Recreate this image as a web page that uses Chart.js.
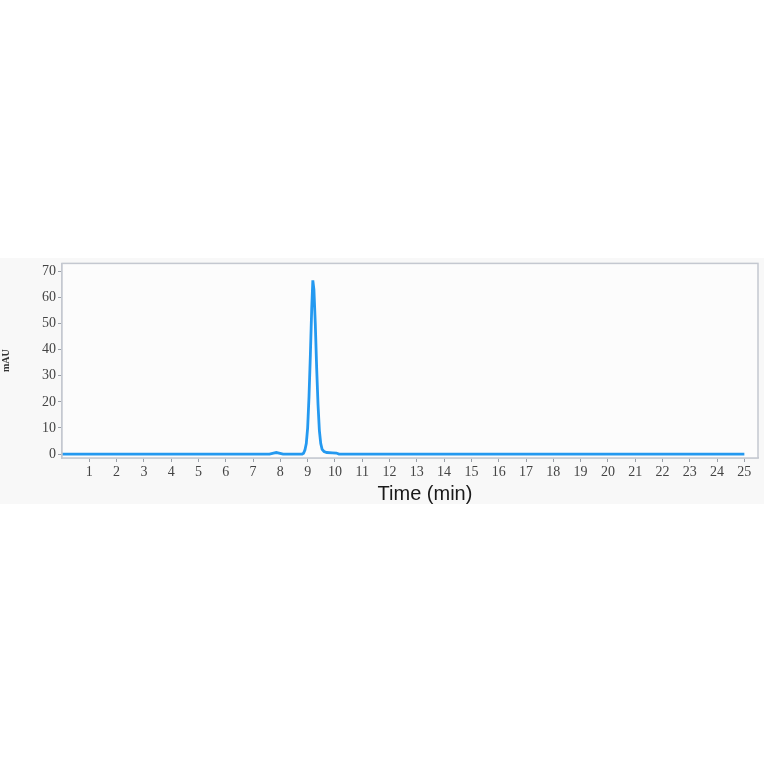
<!DOCTYPE html>
<html>
<head>
<meta charset="utf-8">
<script src="https://cdn.jsdelivr.net/npm/chart.js@4.4.1/dist/chart.umd.min.js"></script>
<style>
  html, body { margin: 0; padding: 0; background: #ffffff; }
  #wrap { position: absolute; left: 0; top: 253px; width: 764px; height: 251px;
          background: linear-gradient(#ffffff 0, #ffffff 5px, #f8f8f8 5px, #f8f8f8 100%); }
</style>
</head>
<body>
<div id="wrap"><canvas id="chart"></canvas></div>
<script>
// retention time (min) and absorbance (mAU)
var timeMin = [0, 7.6, 7.75, 7.85, 7.95, 8.1, 8.8, 8.85, 8.9, 8.95, 9.0, 9.05, 9.1, 9.15, 9.19, 9.23, 9.28, 9.33, 9.38, 9.43, 9.48, 9.53, 9.6, 9.7, 9.9, 10.05, 10.15, 25];
var absMAU  = [0, 0, 0.4, 0.6, 0.4, 0, 0, 0.3, 1.5, 4, 10, 22, 38, 56, 66.5, 63, 50, 33, 19, 9, 4, 1.8, 1.0, 0.6, 0.5, 0.4, 0, 0];
var xTicks = [1, 2, 3, 4, 5, 6, 7, 8, 9, 10, 11, 12, 13, 14, 15, 16, 17, 18, 19, 20, 21, 22, 23, 24, 25];
var yTicks = [0, 10, 20, 30, 40, 50, 60, 70];

var points = timeMin.map(function(t, i) { return { x: t, y: absMAU[i] }; });

var frame = {
  id: "frame",
  beforeDatasetsDraw: function(chart) {
    var a = chart.chartArea, ctx = chart.ctx;
    ctx.save();
    ctx.fillStyle = "#fcfcfc";
    ctx.fillRect(a.left, a.top, a.right - a.left, a.bottom - a.top);
    ctx.restore();
  },
  afterDraw: function(chart) {
    var a = chart.chartArea, ctx = chart.ctx;
    ctx.save();
    ctx.strokeStyle = "#c4c8d0";
    ctx.lineWidth = 1.5;
    ctx.strokeRect(a.left, a.top, a.right - a.left, a.bottom - a.top);
    ctx.fillStyle = "#1a1a1a";
    ctx.font = "20px 'Liberation Sans', Arial, sans-serif";
    ctx.textAlign = "center";
    ctx.textBaseline = "middle";
    ctx.fillText("Time (min)", (a.left + a.right) / 2 + 15, a.bottom + 36);
    ctx.restore();
  }
};

new Chart(document.getElementById("chart"), {
  type: "line",
  data: {
    datasets: [{
      data: points,
      borderColor: "#2499f0",
      borderWidth: 2.8,
      pointRadius: 0,
      tension: 0,
      fill: false
    }]
  },
  options: {
    responsive: true,
    maintainAspectRatio: false,
    animation: false,
    layout: { padding: { top: 0, right: 6, left: 0, bottom: 0 } },
    plugins: { legend: { display: false }, tooltip: { enabled: false } },
    scales: {
      x: {
        type: "linear",
        min: 0,
        max: 25.5,
        afterBuildTicks: function(scale) {
          scale.ticks = xTicks.map(function(v) { return { value: v }; });
        },
        afterFit: function(scale) { scale.height = 46; },
        ticks: {
          autoSkip: false,
          maxRotation: 0,
          padding: 2,
          color: "#444",
          font: { family: "'Liberation Serif', 'DejaVu Serif', serif", size: 14 }
        },
        grid: { drawOnChartArea: false, drawTicks: true, tickLength: 4, color: "#9aa0a8" },
        border: { display: true, color: "#c4c8d0", width: 1.5 }
      },
      y: {
        min: -1.5,
        max: 73,
        afterBuildTicks: function(scale) {
          scale.ticks = yTicks.map(function(v) { return { value: v }; });
        },
        afterFit: function(scale) { scale.width = 62; },
        ticks: {
          padding: 2,
          color: "#444",
          font: { family: "'Liberation Serif', 'DejaVu Serif', serif", size: 14 }
        },
        grid: { drawOnChartArea: false, drawTicks: true, tickLength: 4, color: "#9aa0a8" },
        border: { display: true, color: "#c4c8d0", width: 1.5 },
        title: {
          display: true,
          text: "mAU",
          color: "#333",
          padding: { top: 0, bottom: 0 },
          font: { family: "'Liberation Serif', serif", size: 10, weight: "bold" }
        }
      }
    }
  },
  plugins: [frame]
});
</script>
</body>
</html>
